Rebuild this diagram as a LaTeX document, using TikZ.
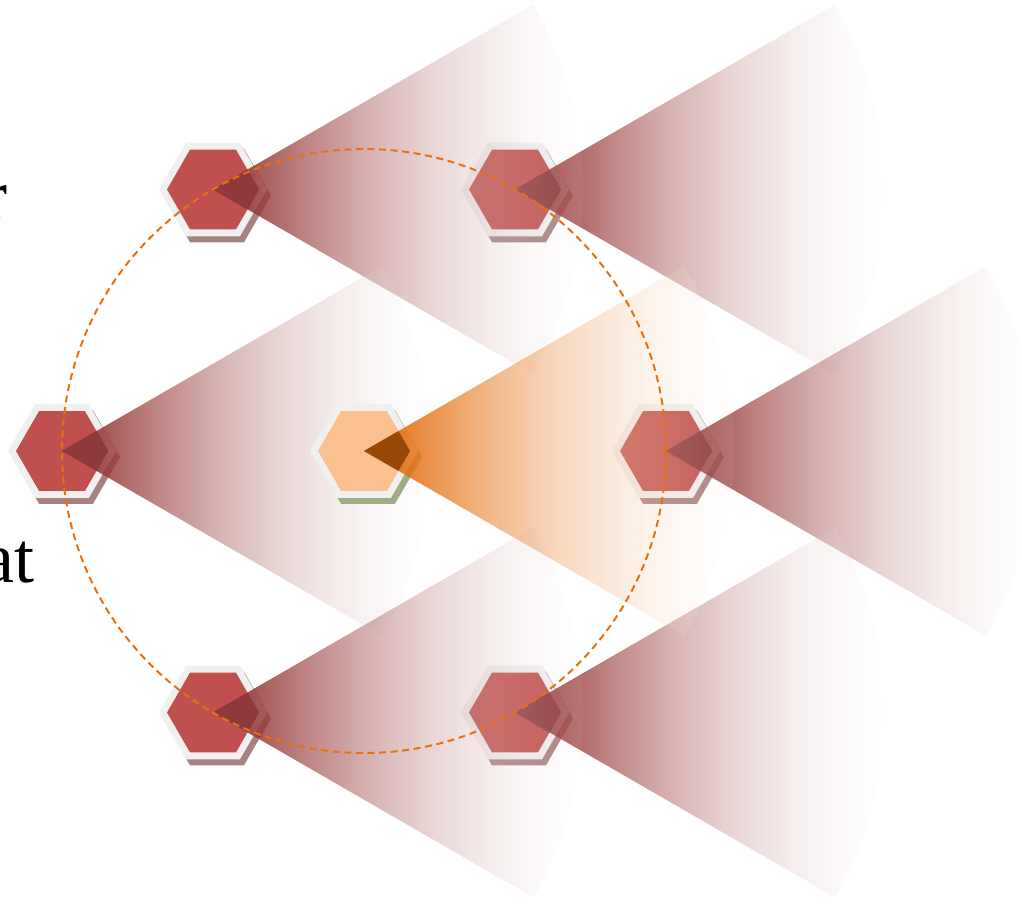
\documentclass[tikz,border=0pt]{standalone}
\usepackage{fontspec}
\newfontfamily\cutfont{Liberation Serif}
\usetikzlibrary{calc,fadings}
\definecolor{hexred}{HTML}{C0504D}
\definecolor{hexorange}{HTML}{FAC08F}
\definecolor{conered}{HTML}{943634}
\definecolor{coneorange}{HTML}{E46C0A}
\definecolor{corered}{HTML}{8E3A3A}
\definecolor{coreorange}{HTML}{974706}
\definecolor{shadowred}{HTML}{A88181}
\definecolor{shadowgreen}{HTML}{9EAC88}
\definecolor{ringgray}{HTML}{F0F0F0}
\definecolor{dashorange}{HTML}{E8700E}
\pgfdeclarehorizontalshading{redconeshade}{100bp}{color(0bp)=(conered); color(30bp)=(conered); color(76bp)=(white); color(100bp)=(white)}
\pgfdeclarehorizontalshading{orangeconeshade}{100bp}{color(0bp)=(coneorange); color(30bp)=(coneorange); color(76bp)=(white); color(100bp)=(white)}
\pgfdeclarehorizontalshading{fadeshade}{100bp}{color(0bp)=(pgftransparent!5); color(25bp)=(pgftransparent!5); color(76bp)=(pgftransparent!100); color(100bp)=(pgftransparent!100)}
\begin{tikzfadingfrompicture}[name=conefade]
  \shade[shading=fadeshade] (-25bp,-25bp) rectangle (25bp,25bp);
\end{tikzfadingfrompicture}
\newcommand\hexagonpath[1]{(0:#1) -- (60:#1) -- (120:#1) -- (180:#1) -- (240:#1) -- (300:#1) -- cycle}
\newcommand\conepath{(0,0) -- (-30:370) arc[start angle=-30,end angle=30,radius=370] -- cycle}
\newcommand\drawcell[5]{%
  \begin{scope}[shift={(#1)}]
    \begin{scope}[shift={(4,6)}]\fill[#3] \hexagonpath{54};\end{scope}
    \fill[ringgray] \hexagonpath{54};
    \fill[#2] \hexagonpath{46};
    \shade[shading=#4, path fading=conefade] \conepath;
    \begin{scope}\clip \hexagonpath{46}; \fill[#5] \conepath;\end{scope}
  \end{scope}}
\tikzset{
  orbit/.style={draw=dashorange, line width=1pt, dash pattern=on 3.5pt off 2.3pt},
  cuttext/.style={anchor=base east, inner sep=0pt, font=\cutfont\fontsize{36}{40}\selectfont}
}
\begin{document}
\begin{tikzpicture}[x=0.5pt,y=-0.5pt]
\useasboundingbox (0,0) rectangle (1022,909);
\coordinate (c) at (364,451);
\coordinate (l) at (62,451);
\coordinate (r) at (666,451);
\coordinate (ul) at (213,189.5);
\coordinate (ur) at (515,189.5);
\coordinate (ll) at (213,712.5);
\coordinate (lr) at (515,712.5);
\drawcell{ur}{hexred}{shadowred}{redconeshade}{corered}
\drawcell{r}{hexred}{shadowred}{redconeshade}{corered}
\drawcell{lr}{hexred}{shadowred}{redconeshade}{corered}
\drawcell{ul}{hexred}{shadowred}{redconeshade}{corered}
\drawcell{l}{hexred}{shadowred}{redconeshade}{corered}
\drawcell{ll}{hexred}{shadowred}{redconeshade}{corered}
\drawcell{c}{hexorange}{shadowgreen}{orangeconeshade}{coreorange}
\draw[orbit] (c) circle[radius=302];
\node[cuttext] (t1) at (8,220) {r};
\node[cuttext] (t2) at (35,582) {at};
\end{tikzpicture}
\end{document}
